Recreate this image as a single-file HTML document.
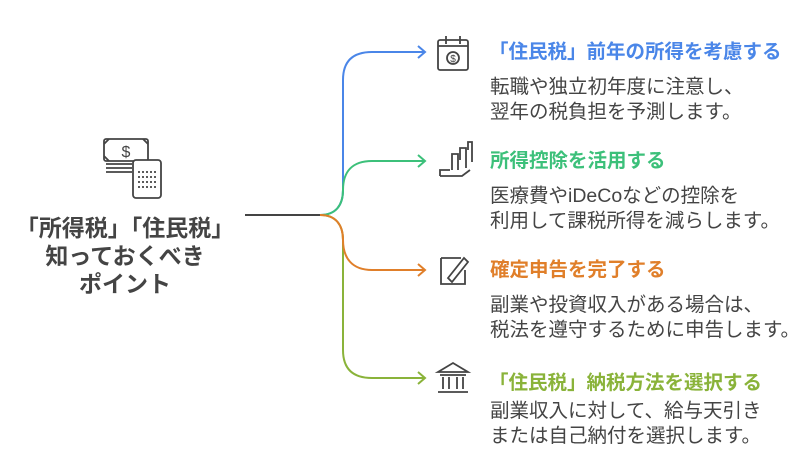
<!DOCTYPE html>
<html><head><meta charset="utf-8"><style>
body{margin:0;width:811px;height:468px;background:#fff;position:relative;overflow:hidden;font-family:"Liberation Sans","Noto Sans CJK JP",sans-serif}
.t{position:absolute;white-space:nowrap}
.h{font-size:19.5px;font-weight:bold;line-height:24px}
.d{font-size:19.5px;color:#444;line-height:25px}
</style></head><body>
<svg width="811" height="468" style="position:absolute;left:0;top:0" fill="none" stroke-width="2">
<line x1="245" y1="215" x2="322" y2="215" stroke="#444"/>
<path d="M320,215 C336,215 343,205 343,190 L343,80 C343,62 352,52 372,52 L424,52" stroke="#4a86e8"/>
<path d="M418,46 L425,52 L418,58" stroke="#4a86e8"/>
<path d="M320,215 C336,215 343,205 343,190 C343,172 352,161 372,161 L424,161" stroke="#3cc07a"/>
<path d="M418,155 L425,161 L418,167" stroke="#3cc07a"/>
<path d="M320,215 C336,215 343,225 343,240 L343,350 C343,368 352,378 372,378 L424,378" stroke="#8ab33a"/>
<path d="M418,372 L425,378 L418,384" stroke="#8ab33a"/>
<path d="M320,215 C336,215 343,225 343,240 C343,258 352,270 372,270 L424,270" stroke="#e07f2a"/>
<path d="M418,264 L425,270 L418,276" stroke="#e07f2a"/>
<g stroke="#444" stroke-width="1.8">
<rect x="104" y="139" width="44" height="22" rx="2"/>
<path d="M104,144 l5,-5 M148,144 l-5,-5 M104,156 l5,5"/>
<text x="126" y="157" font-size="16" fill="#444" stroke="none" text-anchor="middle">$</text>
<path d="M106,168 h26 M106,172 h26 M106,164 h26"/>
<rect x="133" y="160" width="28" height="38" rx="3" fill="#fff"/>
<path d="M138,172 h18 M138,177 h18 M138,182 h18 M138,187 h18" stroke-dasharray="2 2"/>
<rect x="438" y="40" width="30" height="30" rx="2"/><path d="M438,46 h30 M446,36 v8 M460,36 v8"/><circle cx="453" cy="58" r="6"/>
<text x="453" y="62" font-size="10" fill="#444" stroke="none" text-anchor="middle">$</text>
<path d="M440,176 h22 l8,-6 M440,176 v-6 h10 M452,170 v-16 h6 v16 M460,160 v-12 h6 v20 M468,150 v-8 h4 v20"/>
<path d="M441,258 h20 M441,258 v26 h24 v-14 M448,278 l16,-20 l4,4 l-16,20 z"/>
<path d="M438,372 l15,-9 l15,9 z M440,375 h26 M443,377 v12 M449,377 v12 M457,377 v12 M463,377 v12 M438,392 h30"/>
</g>
</svg>
<div class="t" style="left:5px;top:214px;width:240px;text-align:center;font-size:23px;font-weight:bold;color:#444;line-height:28px">「所得税」「住民税」<br>知っておくべき<br>ポイント</div>
<div class="t h" style="left:489px;top:40px;color:#4a86e8">「住民税」前年の所得を考慮する</div>
<div class="t d" style="left:490px;top:75px">転職や独立初年度に注意し、<br>翌年の税負担を予測します。</div>
<div class="t h" style="left:490px;top:149px;color:#3cc07a">所得控除を活用する</div>
<div class="t d" style="left:490px;top:184px">医療費やiDeCoなどの控除を<br>利用して課税所得を減らします。</div>
<div class="t h" style="left:490px;top:258px;color:#e07f2a">確定申告を完了する</div>
<div class="t d" style="left:490px;top:293px">副業や投資収入がある場合は、<br>税法を遵守するために申告します。</div>
<div class="t h" style="left:489px;top:371px;color:#8ab33a">「住民税」納税方法を選択する</div>
<div class="t d" style="left:490px;top:399px">副業収入に対して、給与天引き<br>または自己納付を選択します。</div>
</body></html>
